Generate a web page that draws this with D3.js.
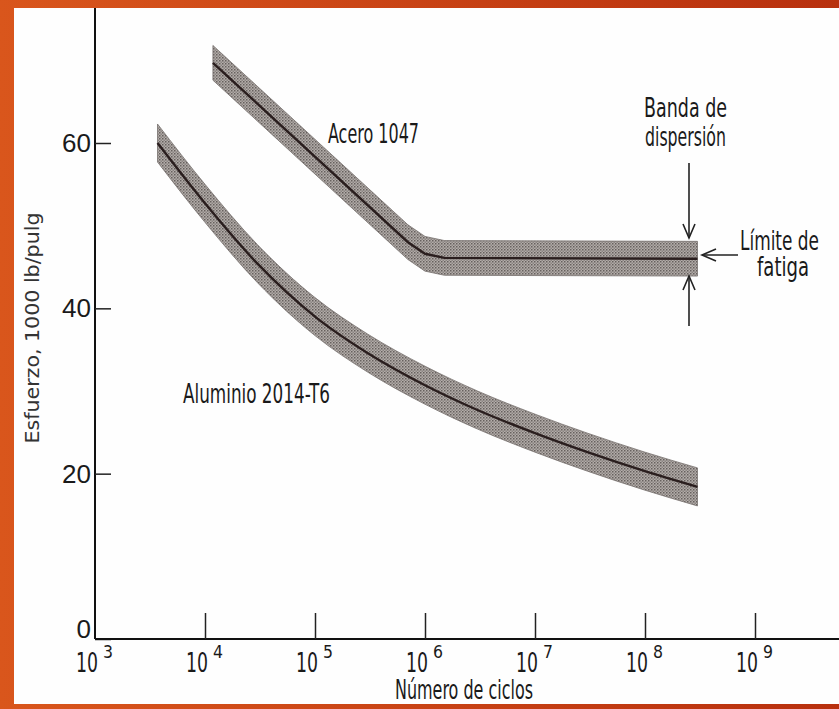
<!DOCTYPE html>
<html><head><meta charset="utf-8">
<script src="https://cdn.jsdelivr.net/npm/d3@7"></script>
<style>html,body{margin:0;padding:0;background:#c8400f;}svg{display:block;}</style>
</head><body>
<svg id="c" width="839" height="709"></svg>
<script>
// ---- data ----
const steelCycles = [1.18e4, 7.0e5, 1.0e6, 1.5e6, 3.0e8];
const steelStress = [69.7, 48.0, 46.6, 46.1, 46.0];
const steelBand = 2.1;           // scatter band half width (1000 lb/pulg)
const aluCycles = [3.7e3, 1e4, 3e4, 1e5, 3e5, 1e6, 3e6, 1e7, 3e7, 1e8, 3e8];
const aluStress = [60.0, 52.7, 45.4, 39.0, 34.6, 30.7, 27.7, 24.9, 22.6, 20.3, 18.4];
const aluBand = 2.3;
const xTickExp = [3, 4, 5, 6, 7, 8, 9];
const yTicks = [0, 20, 40, 60];
const seriesLabels = ["Acero 1047", "Aluminio 2014-T6"];
const xTitle = "Número de ciclos";
const yTitle = "Esfuerzo, 1000 lb/pulg";

const svg = d3.select("#c");
const defs = svg.append("defs");
const g1 = defs.append("linearGradient").attr("id","bg").attr("x1","0").attr("y1","0").attr("x2","1").attr("y2","0");
g1.append("stop").attr("offset","0").attr("stop-color","#d9561c");
g1.append("stop").attr("offset","1").attr("stop-color","#b8300e");
svg.append("rect").attr("width",839).attr("height",709).attr("fill","url(#bg)");
svg.append("rect").attr("x",14).attr("y",8).attr("width",825).attr("height",696).attr("fill","#fefefe");

// band texture
const pat = defs.append("pattern").attr("id","tex").attr("width",3).attr("height",3).attr("patternUnits","userSpaceOnUse");
pat.append("rect").attr("width",3).attr("height",3).attr("fill","#b3ada9");
pat.append("rect").attr("x",0).attr("y",0).attr("width",1.5).attr("height",1.5).attr("fill","#66605e");
pat.append("rect").attr("x",1.5).attr("y",1.5).attr("width",1.5).attr("height",1.5).attr("fill","#8a8482");

const x0 = 95, x1 = 839;
const decade = 110;
const x = d3.scaleLog().domain([1e3, Math.pow(10, 3 + (x1 - x0) / decade)]).range([x0, x1]);
const y = d3.scaleLinear().domain([0, (639 - 8) / (496 / 60)]).range([639, 8]);

const condensed = "'Liberation Sans Narrow','DejaVu Sans Condensed','Roboto Condensed',sans-serif";

function drawSeries(cyc, st, band, curve) {
  const pts = cyc.map((c, i) => ({c, s: st[i]}));
  const area = d3.area().x(d => x(d.c)).y0(d => y(d.s - band)).y1(d => y(d.s + band)).curve(curve);
  svg.append("path").datum(pts).attr("d", area).attr("fill","url(#tex)").attr("stroke","#77716f").attr("stroke-width",0.8);
  const line = d3.line().x(d => x(d.c)).y(d => y(d.s)).curve(curve);
  svg.append("path").datum(pts).attr("d", line).attr("fill","none").attr("stroke","#2a1e1e").attr("stroke-width",2.4);
}
drawSeries(steelCycles, steelStress, steelBand, d3.curveLinear);
drawSeries(aluCycles, aluStress, aluBand, d3.curveMonotoneX);

// axes
const yAxis = d3.axisLeft(y).tickValues(yTicks).tickSize(-16).tickFormat("");
const ya = svg.append("g").attr("transform",`translate(${x0},0)`).call(yAxis);
ya.select(".domain").attr("stroke","#111").attr("stroke-width",2).attr("d",`M0,8V639`);
ya.selectAll(".tick line").attr("stroke","#222").attr("stroke-width",1.5);

const xAxis = d3.axisBottom(x).tickValues(xTickExp.map(e => Math.pow(10, e))).tickSize(-26).tickFormat("");
const xa = svg.append("g").attr("transform","translate(0,639)").call(xAxis);
xa.select(".domain").attr("stroke","#111").attr("stroke-width",2.2).attr("d",`M${x0},0H${x1}`);
xa.selectAll(".tick line").attr("stroke","#222").attr("stroke-width",1.5);
xa.selectAll(".tick").filter(d => d === 1e3).select("line").remove();

// y tick labels
svg.selectAll("text.yl").data(yTicks).enter().append("text").attr("class","yl")
  .attr("x", 91).attr("y", d => d === 0 ? y(d) - 1 : y(d) + 9)
  .attr("text-anchor","end").attr("font-family","'Liberation Sans',Arial,sans-serif")
  .attr("font-size",26).attr("fill","#1a1a1a").text(d => d);

// x tick labels (single text with superscript)
xTickExp.forEach(e => {
  const px = x(Math.pow(10, e));
  const t = svg.append("text").attr("x", px - 19).attr("y", 672)
    .attr("font-family", condensed).attr("fill","#1a1a1a");
  t.append("tspan").attr("font-size",26).attr("textLength",22).attr("lengthAdjust","spacingAndGlyphs").text("10");
  t.append("tspan").attr("dx",5).attr("dy",-14).attr("font-size",18)
    .attr("textLength",10).attr("lengthAdjust","spacingAndGlyphs").text(String(e));
});

function label(t, xx, yy, len, fs, anchor) {
  return svg.append("text").attr("x", xx).attr("y", yy).attr("text-anchor", anchor || "start")
    .attr("font-family", condensed).attr("font-size", fs).attr("fill","#1a1a1a")
    .attr("textLength", len).attr("lengthAdjust","spacingAndGlyphs").text(t);
}
label(seriesLabels[0], 328, 143, 91, 27);
label(seriesLabels[1], 183, 403, 147, 27);
label("Banda de", 644, 117, 83, 27);
label("dispersión", 645, 146, 81, 27);
label("Límite de", 740, 250, 79, 27);
label("fatiga", 757, 276, 52, 27);
label(xTitle, 395, 699, 138, 26);
svg.append("text").attr("transform","translate(39,328) rotate(-90)").attr("text-anchor","middle")
  .attr("font-family", condensed).attr("font-size",19).attr("fill","#333")
  .attr("textLength",231).attr("lengthAdjust","spacingAndGlyphs").text(yTitle);

// annotation arrows
const ax = 689;
const arr = svg.append("g").attr("stroke","#222").attr("stroke-width",1.6).attr("fill","none");
arr.append("line").attr("x1",ax).attr("y1",163).attr("x2",ax).attr("y2",238);
arr.append("path").attr("d",`M${ax-6},224L${ax},238L${ax+6},224`);
arr.append("line").attr("x1",ax).attr("y1",326).attr("x2",ax).attr("y2",276);
arr.append("path").attr("d",`M${ax-6},290L${ax},276L${ax+6},290`);
arr.append("line").attr("x1",738).attr("y1",255).attr("x2",702).attr("y2",255);
arr.append("path").attr("d",`M716,249L702,255L716,261`);
</script>
</body></html>
